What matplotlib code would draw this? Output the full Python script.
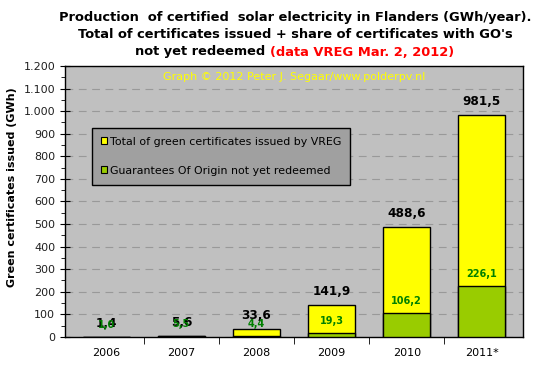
import matplotlib
matplotlib.use("Agg")
import matplotlib.pyplot as plt
from matplotlib.ticker import MultipleLocator, FuncFormatter
from matplotlib.patches import Patch

years = ["2006", "2007", "2008", "2009", "2010", "2011*"]
total = [1.4, 5.6, 33.6, 141.9, 488.6, 981.5]
go_not_redeemed = [1.0, 5.5, 4.4, 19.3, 106.2, 226.1]

def fmt(v):
    return f"{v:.1f}".replace(".", ",")

fig = plt.figure(figsize=(5.41, 3.71), dpi=100)
fig.patch.set_facecolor("white")
ax = fig.add_axes([0.120, 0.092, 0.847, 0.730])
ax.set_facecolor("#C0C0C0")

x = list(range(len(years)))
w = 0.63
ax.bar(x, total, width=w, color="#FFFF00", edgecolor="black", linewidth=1.0, zorder=3)
ax.bar(x, go_not_redeemed, width=w, color="#99CC00", edgecolor="black", linewidth=1.0, zorder=4)

for i in x:
    ax.annotate(fmt(total[i]), (i, total[i]), xytext=(0, 5), textcoords="offset points",
                ha="center", va="bottom", fontsize=8.7, fontweight="bold", color="black", zorder=6)
    ax.annotate(fmt(go_not_redeemed[i]), (i, go_not_redeemed[i]), xytext=(0, 5), textcoords="offset points",
                ha="center", va="bottom", fontsize=7, fontweight="bold", color="#008000", zorder=7)

ax.set_xlim(-0.55, len(years) - 0.45)
ax.set_ylim(0, 1200)
ax.yaxis.set_major_locator(MultipleLocator(100))
ax.yaxis.set_minor_locator(MultipleLocator(50))
ax.yaxis.set_major_formatter(FuncFormatter(lambda v, p: f"{int(v):,}".replace(",", ".")))
ax.set_xticks(x)
ax.set_xticklabels(years, fontsize=8)
ax.tick_params(axis="y", which="major", direction="inout", length=7, labelsize=8, labelcolor="#202020")
ax.tick_params(axis="y", which="minor", direction="out", length=3)
ax.set_xticks([i + 0.5 for i in x[:-1]], minor=True)
ax.tick_params(axis="x", which="major", length=0, pad=8)
ax.tick_params(axis="x", which="minor", direction="out", length=5)
ax.grid(axis="y", which="major", linestyle=(0, (7, 5)), color="#999999", linewidth=0.8, zorder=1)
ax.set_axisbelow(True)
for s in ax.spines.values():
    s.set_color("black")
    s.set_linewidth(1.0)

ax.set_ylabel("Green certificates issued (GWh)", fontsize=8, fontweight="bold")
ax.yaxis.set_label_coords(-0.105, 0.553)

ax.text(0.5, 0.958, "Graph \u00a9 2012 Peter J. Segaar/www.polderpv.nl", transform=ax.transAxes,
        ha="center", va="center", fontsize=8, color="#FFFF00", zorder=8)

handles = [Patch(facecolor="#FFFF00", edgecolor="black", linewidth=0.8),
           Patch(facecolor="#99CC00", edgecolor="black", linewidth=0.8)]
leg = ax.legend(handles, ["Total of green certificates issued by VREG", "Guarantees Of Origin not yet redeemed"],
                loc="upper left", bbox_to_anchor=(0.059, 0.772), fontsize=7.9, frameon=True, fancybox=False,
                handlelength=0.6, handleheight=0.6, handletextpad=0.2, labelspacing=1.75,
                borderpad=0.8, borderaxespad=0)
leg.get_frame().set_facecolor("#A0A0A0")
leg.get_frame().set_edgecolor("black")
leg.get_frame().set_linewidth(1.0)
leg.get_frame().set_alpha(1)

fs = 9.4
tkw = dict(fontsize=fs, fontweight="bold", ha="center", va="center")
cx = 0.545
fig.text(cx, 1 - 17 / 371, "Production  of certified  solar electricity in Flanders (GWh/year).", **tkw)
fig.text(cx, 1 - 35 / 371, "Total of certificates issued + share of certificates with GO's", **tkw)
fig.canvas.draw()
r = fig.canvas.get_renderer()
p1 = "not yet redeemed "
p2 = "(data VREG Mar. 2, 2012)"
t1 = fig.text(0, 1 - 52 / 371, p1, fontsize=fs, fontweight="bold", ha="left", va="center")
t2 = fig.text(0, 1 - 52 / 371, p2, fontsize=fs, fontweight="bold", ha="left", va="center", color="#FF0000")
w1 = t1.get_window_extent(r).width
w2 = t2.get_window_extent(r).width
W = fig.bbox.width
start = cx * W - (w1 + w2) / 2
t1.set_x(start / W)
t2.set_x((start + w1) / W)

fig.savefig("out.png", dpi=100)
